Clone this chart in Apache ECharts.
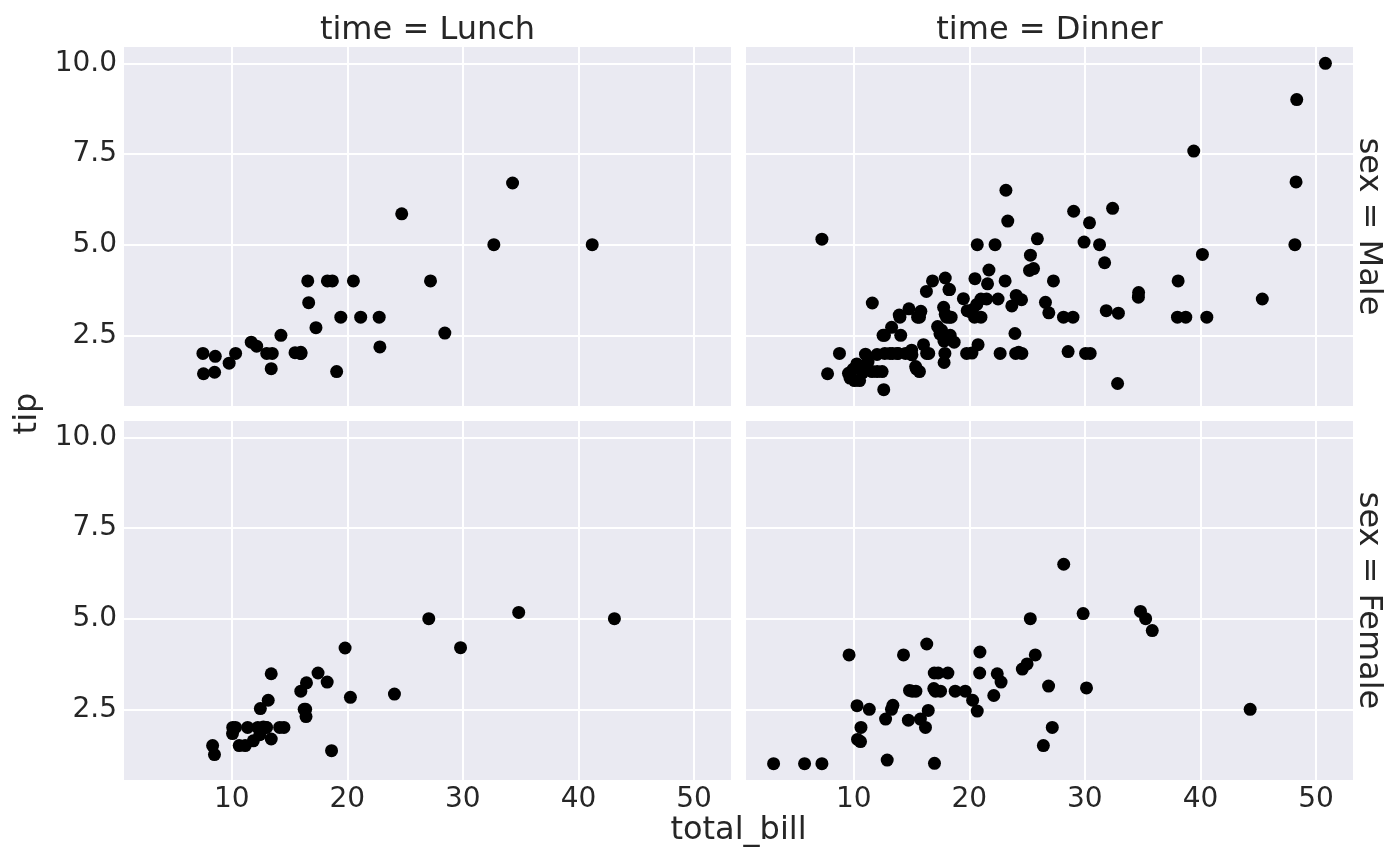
<!DOCTYPE html>
<html><head><meta charset="utf-8">
<script src="https://cdn.jsdelivr.net/npm/echarts@6/dist/echarts.min.js"></script>
<style>html,body{margin:0;padding:0;background:#fff}#c{width:1400px;height:866px}</style>
</head><body><div id="c"></div>
<script>
const colCategories = ['Lunch', 'Dinner'];
const rowCategories = ['Male', 'Female'];
const xTicks = [10, 20, 30, 40, 50];
const yTicks = [2.5, 5, 7.5, 10];

// [total_bill, tip]
const lunchMale = [
[27.2,4.0],[22.76,3.0],[17.29,2.71],[19.44,3.0],[16.66,3.4],[32.68,5.0],[15.98,2.03],[13.03,2.0],
[18.28,4.0],[24.71,5.85],[21.16,3.0],[11.69,2.31],[14.26,2.5],[15.95,2.0],[8.52,1.48],[22.82,2.18],
[19.08,1.5],[16.0,2.0],[34.3,6.7],[41.19,5.0],[9.78,1.73],[7.51,2.0],[28.44,2.56],[15.48,2.02],
[16.58,4.0],[7.56,1.44],[10.34,2.0],[13.51,2.0],[18.71,4.0],[20.53,4.0],[12.16,2.2],[8.58,1.92],
[13.42,1.58]
];
const dinnerMale = [
[10.34,1.66],[21.01,3.5],[23.68,3.31],[25.29,4.71],[8.77,2.0],[26.88,3.12],[15.04,1.96],[14.78,3.23],
[10.27,1.71],[15.42,1.57],[18.43,3.0],[21.58,3.92],[16.29,3.71],[20.65,3.35],[17.92,4.08],[39.42,7.58],
[19.82,3.18],[17.81,2.34],[13.37,2.0],[12.69,2.0],[21.7,4.3],[9.55,1.45],[18.35,2.5],[17.78,3.27],
[24.06,3.6],[16.31,2.0],[18.69,2.31],[31.27,5.0],[16.04,2.24],[17.46,2.54],[13.94,3.06],[9.68,1.32],
[30.4,5.6],[18.29,3.0],[22.23,5.0],[32.4,6.0],[28.55,2.05],[18.04,3.0],[12.54,2.5],[9.94,1.56],
[25.56,4.34],[19.49,3.51],[38.01,3.0],[11.24,1.76],[48.27,6.73],[20.29,3.21],[13.81,2.0],[11.02,1.98],
[18.29,3.76],[17.59,2.64],[20.08,3.15],[20.23,2.01],[15.01,2.09],[12.02,1.97],[10.51,1.25],[17.92,3.08],
[28.97,3.0],[22.49,3.5],[40.17,4.73],[27.28,4.0],[12.03,1.5],[21.01,3.0],[12.46,1.5],[15.36,1.64],
[20.49,4.06],[25.21,4.29],[18.24,3.76],[14.0,3.0],[38.07,4.0],[23.95,2.55],[29.93,5.07],[14.07,2.5],
[13.13,2.0],[17.26,2.74],[24.55,2.0],[19.77,2.0],[48.17,5.0],[16.49,2.0],[21.5,3.5],[12.66,2.5],
[13.81,2.0],[24.52,3.48],[20.76,2.24],[31.71,4.5],[50.81,10.0],[15.81,3.16],[7.25,5.15],[31.85,3.18],
[16.82,4.0],[32.9,3.11],[17.89,2.0],[14.48,2.0],[34.63,3.55],[34.65,3.68],[23.33,5.65],[45.35,3.5],
[23.17,6.5],[40.55,3.0],[20.69,5.0],[30.46,2.0],[23.1,4.0],[15.69,1.5],[26.59,3.41],[38.73,3.0],
[24.27,2.03],[30.06,2.0],[25.89,5.16],[48.33,9.0],[28.15,3.0],[11.59,1.5],[7.74,1.44],[20.45,3.0],
[13.28,2.72],[24.01,2.0],[15.69,3.0],[11.61,3.39],[10.77,1.47],[15.53,3.0],[10.07,1.25],[12.6,1.0],
[32.83,1.17],[29.03,5.92],[22.67,2.0],[17.82,1.75]
];
const lunchFemale = [
[10.07,1.83],[34.83,5.17],[10.65,1.5],[12.43,1.8],[24.08,2.92],[13.42,1.68],[12.48,2.52],[29.8,4.2],
[14.52,2.0],[11.38,2.0],[20.27,2.83],[11.17,1.5],[12.26,2.0],[18.26,3.25],[8.51,1.25],[10.33,2.0],
[14.15,2.0],[13.16,2.75],[17.47,3.5],[27.05,5.0],[16.43,2.3],[8.35,1.5],[18.64,1.36],[11.87,1.63],
[19.81,4.19],[43.11,5.0],[13.0,2.0],[12.74,2.01],[13.0,2.0],[16.4,2.5],[16.47,3.23],[13.42,3.48],
[15.98,3.0],[16.27,2.5],[10.09,2.0]
];
const dinnerFemale = [
[16.99,1.01],[24.59,3.61],[35.26,5.0],[14.83,3.02],[10.33,1.67],[16.97,3.5],[20.29,2.75],[15.77,2.23],
[19.65,3.0],[15.06,3.0],[20.69,2.45],[16.93,3.07],[10.29,2.6],[34.81,5.2],[26.41,1.5],[16.45,2.47],
[3.07,1.0],[17.07,3.0],[26.86,3.14],[25.28,5.0],[14.73,2.2],[5.75,1.0],[16.32,4.3],[22.75,3.25],
[11.35,2.5],[15.38,3.0],[44.3,2.5],[22.42,3.48],[20.92,4.08],[14.31,4.0],[7.25,1.0],[25.71,4.0],
[17.31,3.5],[29.85,5.14],[25.0,3.75],[13.39,2.61],[16.21,2.0],[17.51,3.0],[10.59,1.61],[10.63,2.0],
[9.6,4.0],[20.9,3.5],[18.15,3.5],[12.76,2.23],[13.27,2.5],[28.17,6.5],[12.9,1.1],[30.14,3.09],
[22.12,2.88],[35.83,4.67],[27.18,2.0],[18.78,3.0]
];

const panels = [
  {data: lunchMale, row: 0, col: 0},
  {data: dinnerMale, row: 0, col: 1},
  {data: lunchFemale, row: 1, col: 0},
  {data: dinnerFemale, row: 1, col: 1}
];

// matplotlib-style 5% margins, shared axes
const all = [].concat(lunchMale, dinnerMale, lunchFemale, dinnerFemale);
const xs = all.map(d => d[0]), ys = all.map(d => d[1]);
const xMinD = Math.min(...xs), xMaxD = Math.max(...xs);
const yMinD = Math.min(...ys), yMaxD = Math.max(...ys);
const xMin = xMinD - 0.05 * (xMaxD - xMinD), xMax = xMaxD + 0.05 * (xMaxD - xMinD);
const yMin = yMinD - 0.05 * (yMaxD - yMinD), yMax = yMaxD + 0.05 * (yMaxD - yMinD);

const TXT = '#262626';
const FONT = 'DejaVu Sans';
const colLeft = [124, 746], rowTop = [47, 421];
const PW = 607, PH = 359;

const grids = [], xAxes = [], yAxes = [], series = [];
panels.forEach((p, i) => {
  grids.push({left: colLeft[p.col], top: rowTop[p.row], width: PW, height: PH,
    show: true, backgroundColor: '#EAEAF2', borderWidth: 0, containLabel: false});
  xAxes.push({type: 'value', gridIndex: i, min: xMin, max: xMax,
    axisLine: {show: false},
    axisTick: {show: false, customValues: xTicks},
    axisLabel: {show: p.row === 1, customValues: xTicks, color: TXT, fontFamily: FONT, fontSize: 28, margin: 6},
    splitLine: {show: true, lineStyle: {color: '#ffffff', width: 2}}});
  yAxes.push({type: 'value', gridIndex: i, min: yMin, max: yMax,
    axisLine: {show: false},
    axisTick: {show: false, customValues: yTicks},
    axisLabel: {show: p.col === 0, customValues: yTicks, color: TXT, fontFamily: FONT, fontSize: 28, margin: 7,
      formatter: v => Number(v).toFixed(1)},
    splitLine: {show: true, lineStyle: {color: '#ffffff', width: 2}}});
  series.push({type: 'scatter', xAxisIndex: i, yAxisIndex: i, data: p.data,
    symbol: 'circle', symbolSize: 13, itemStyle: {color: '#000000', opacity: 1}, silent: true});
});

const txtStyle = (t, x, y, extra) => Object.assign({
  type: 'text', x: x, y: y, silent: true,
  style: {text: t, fill: TXT, font: '32px "DejaVu Sans"', align: 'center', verticalAlign: 'middle'}
}, extra || {});

const graphics = [];
colCategories.forEach((c, j) => {
  graphics.push(txtStyle('time = ' + c, colLeft[j] + PW / 2, 31));
});
rowCategories.forEach((r, j) => {
  graphics.push(txtStyle('sex = ' + r, 1368, rowTop[j] + PH / 2, {rotation: -Math.PI / 2}));
});
graphics.push(txtStyle('tip', 28, (rowTop[0] + rowTop[1] + PH) / 2, {rotation: Math.PI / 2}));
graphics.push(txtStyle('total_bill', (colLeft[0] + colLeft[1] + PW) / 2, 831));

const chart = echarts.init(document.getElementById('c'), null, {renderer: 'canvas'});
chart.setOption({
  animation: false,
  backgroundColor: '#ffffff',
  textStyle: {fontFamily: FONT},
  grid: grids, xAxis: xAxes, yAxis: yAxes, series: series,
  graphic: graphics
});
</script></body></html>
